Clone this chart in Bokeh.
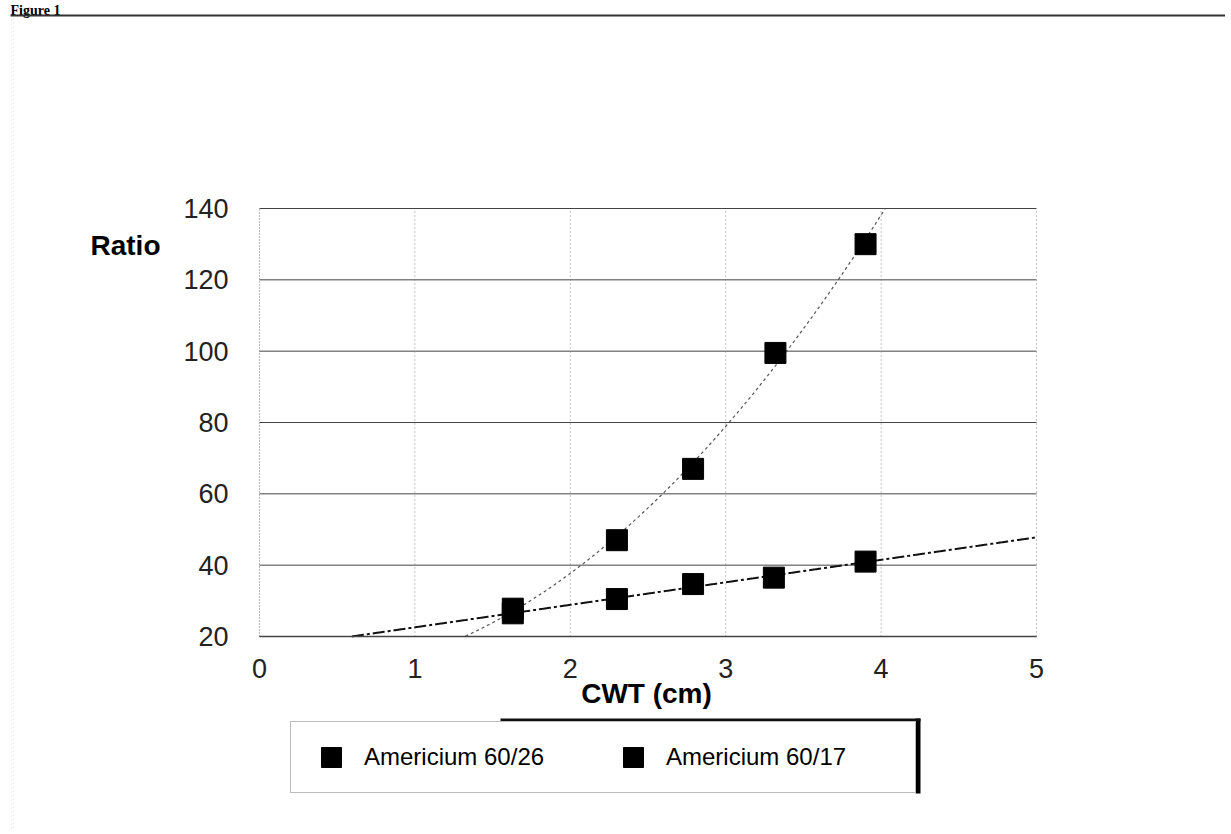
import numpy as np
from bokeh.plotting import figure
from bokeh.models import (ColumnDataSource, FixedTicker, Label, Legend, LegendItem,
                          BoxAnnotation, Range1d, LinearAxis)
from bokeh.embed import file_html
from bokeh.resources import INLINE

# ---- data ----
cwt_26 = [1.63, 2.30, 2.79, 3.32, 3.90]
ratio_26 = [27.8, 47.0, 67.0, 99.5, 130.0]
cwt_17 = [1.63, 2.30, 2.79, 3.31, 3.90]
ratio_17 = [26.5, 30.5, 34.7, 36.5, 41.0]
x_ticks = [0, 1, 2, 3, 4, 5]
y_ticks = [20, 40, 60, 80, 100, 120, 140]
series_names = ["Americium 60/26", "Americium 60/17"]

FONT = "Liberation Sans"

# ---- layout constants (canvas pixels) ----
W, H = 1225, 830
PL, PR, PT, PB = 259, 1036, 208, 636          # chart area on the page
XMIN, XMAX = x_ticks[0], x_ticks[-1]
YMIN, YMAX = y_ticks[0], y_ticks[-1]
XS = (PR - PL) / (XMAX - XMIN)
YS = (PB - PT) / (YMAX - YMIN)

p = figure(width=W, height=H, min_border=0,
           x_range=Range1d(XMIN - PL / XS, XMIN + (W - PL) / XS),
           y_range=Range1d(YMIN - (H - PB) / YS, YMAX + PT / YS),
           x_axis_location=None, y_axis_location=None,
           output_backend="svg", toolbar_location=None,
           background_fill_color="white", border_fill_color="white")
p.outline_line_color = None
p.grid.visible = False

def sy(py):  # page y (from top) -> screen units (from bottom)
    return H - py

# ---- grid lines along the ticks, limited to the chart area ----
p.segment(x0=[XMIN] * len(y_ticks), x1=[XMAX] * len(y_ticks), y0=y_ticks, y1=y_ticks,
          line_color="#444444", line_width=1)
p.segment(x0=x_ticks[1:], x1=x_ticks[1:], y0=[YMIN] * (len(x_ticks) - 1),
          y1=[YMAX] * (len(x_ticks) - 1),
          line_color="#888888", line_width=1, line_dash="1 3")

# ---- axes placed at the chart's edges ----
xaxis = LinearAxis(fixed_location=YMIN, bounds=(XMIN, XMAX),
                   ticker=FixedTicker(ticks=x_ticks))
yaxis = LinearAxis(fixed_location=XMIN, bounds=(YMIN, YMAX),
                   ticker=FixedTicker(ticks=y_ticks))
for ax in (xaxis, yaxis):
    ax.major_tick_line_color = None
    ax.minor_tick_line_color = None
    ax.major_label_text_font = FONT
    ax.major_label_text_font_size = "27px"
    ax.major_label_text_color = "#222222"
xaxis.axis_line_color = "#444444"
xaxis.axis_line_width = 1.5
xaxis.major_label_standoff = 16
yaxis.axis_line_color = "#777777"
yaxis.axis_line_dash = "1 2"
yaxis.major_label_standoff = 25
p.add_layout(xaxis, "below")
p.add_layout(yaxis, "left")

# ---- trend lines fitted to the data, kept inside the chart area ----
xs = np.linspace(XMIN, XMAX, 1001)
c26 = np.polyfit(cwt_26, ratio_26, 2)
c17 = np.polyfit(cwt_17, ratio_17, 1)
y26 = np.polyval(c26, xs)
y17 = np.polyval(c17, xs)
k26 = (y26 >= YMIN) & (y26 <= YMAX) & (xs > 1.0)
k17 = (y17 >= YMIN) & (y17 <= YMAX)
p.line(xs[k26], y26[k26], line_color="#555555", line_width=1.2, line_dash="3 3")
p.line(xs[k17], y17[k17], line_color="#111111", line_width=2, line_dash="12 3 3 3")

src26 = ColumnDataSource(dict(x=cwt_26, y=ratio_26))
src17 = ColumnDataSource(dict(x=cwt_17, y=ratio_17))
r26 = p.scatter("x", "y", source=src26, marker="square", size=21,
                fill_color="black", line_color="black")
r17 = p.scatter("x", "y", source=src17, marker="square", size=21,
                fill_color="black", line_color="black")

# ---- axis titles ----
p.add_layout(Label(x=90, y=sy(245), x_units="screen", y_units="screen", text="Ratio",
                   text_font=FONT, text_font_style="bold", text_font_size="28px",
                   text_align="left", text_baseline="middle", text_color="black"))
p.add_layout(Label(x=646, y=sy(693), x_units="screen", y_units="screen", text="CWT (cm)",
                   text_font=FONT, text_font_style="bold", text_font_size="28px",
                   text_align="center", text_baseline="middle", text_color="black"))

# ---- legend below the chart ----
LX, LY = 290, 723
LW, LH = 623, 70
legend = Legend(items=[LegendItem(label=series_names[0], renderers=[r26]),
                       LegendItem(label=series_names[1], renderers=[r17])],
                orientation="horizontal", location=(LX, sy(LY + LH)),
                glyph_width=60, glyph_height=50, label_standoff=3,
                label_width=239, spacing=0, padding=10,
                label_text_font=FONT, label_text_font_size="24px",
                label_text_color="black",
                border_line_color="#777777", border_line_width=1,
                background_fill_color="white", background_fill_alpha=1)
p.add_layout(legend, "center")
def sbox(l, r, t, b, **kw):
    return BoxAnnotation(left=l, right=r, top=sy(t), bottom=sy(b),
                         left_units="screen", right_units="screen",
                         top_units="screen", bottom_units="screen", **kw)
# scanned shadow: thick right and top edges of the legend box
p.add_layout(sbox(915, 920, 718, LY + LH,
                  fill_color="black", fill_alpha=1, line_color=None))
p.add_layout(sbox(LX + 210, 920, 718, 721,
                  fill_color="#111111", fill_alpha=1, line_color=None))

# ---- scanned page frame ----
p.add_layout(Label(x=10, y=sy(10), x_units="screen", y_units="screen", text="Figure 1",
                   text_font="Liberation Serif", text_font_style="bold",
                   text_font_size="14px", text_align="left", text_baseline="alphabetic",
                   text_color="black"))
p.add_layout(sbox(10, W, 14, 16, fill_color="#333333", fill_alpha=1, line_color=None))
p.add_layout(sbox(11, 13, 16, H, fill_alpha=0, line_color="#999999", line_dash="1 3",
                  line_width=1))

open("out.html", "w").write(file_html(p, INLINE))
